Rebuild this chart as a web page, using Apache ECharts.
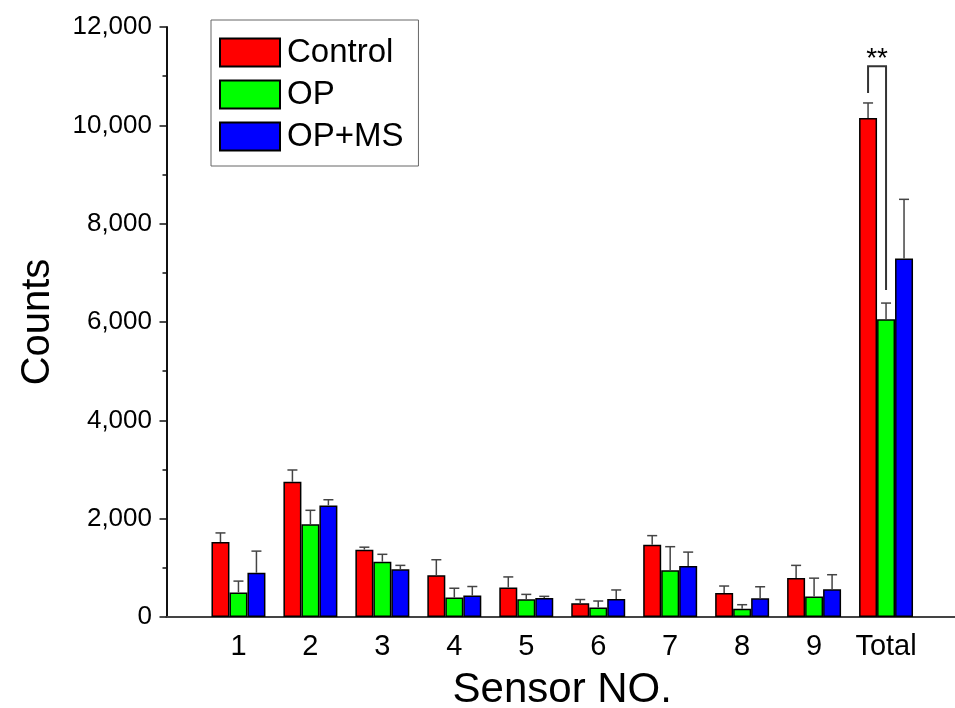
<!DOCTYPE html>
<html>
<head>
<meta charset="utf-8">
<script src="https://cdn.jsdelivr.net/npm/echarts@6/dist/echarts.min.js"></script>
<style>
  html, body { margin: 0; padding: 0; background: #fff; }
  #main { width: 955px; height: 708px; }
</style>
</head>
<body>
<div id="main"></div>
<script>
// categories on the x axis
const sensors = ['1', '2', '3', '4', '5', '6', '7', '8', '9', 'Total'];
// mean counts
const control = [1525, 2750, 1370, 850, 600, 280, 1470, 490, 795, 10150];
const op      = [500, 1885, 1125, 395, 360, 195, 950, 170, 415, 6055];
const opms    = [900, 2270, 970, 435, 385, 365, 1035, 380, 565, 7290];
// upper error (SD)
const controlErr = [185, 240, 50, 315, 215, 75, 185, 140, 255, 305];
const opErr      = [230, 285, 150, 190, 100, 130, 480, 80, 375, 330];
const opmsErr    = [440, 115, 80, 185, 35, 185, 285, 235, 295, 1205];
// significance bracket between Control and OP on Total: [left leg bottom, top, right leg bottom]
const bracket = [10660, 11200, 6650];
const yTicks = [0, 2000, 4000, 6000, 8000, 10000, 12000];

const font = 'Liberation Sans, Arial, sans-serif';
const colors = ['#ff0000', '#00ff00', '#0000ff'];
const names = ['Control', 'OP', 'OP+MS'];

const chart = echarts.init(document.getElementById('main'));

function barSeries(name, vals, color) {
  return {
    name: name,
    type: 'bar',
    data: vals.map((v, i) => [i + 1, v]),
    barGap: '0%',
    barCategoryGap: '25%',
    itemStyle: { color: color, borderColor: '#000', borderWidth: 1.5 },
    z: 2
  };
}

function errSeries(idx, vals, errs) {
  return {
    type: 'custom',
    name: 'err' + idx,
    data: vals.map((v, i) => [i + 1, v, errs[i]]),
    encode: { x: 0, y: 1 },
    z: 3,
    renderItem: function (params, api) {
      const bw = api.size([1, 0])[0] * 0.25;
      const base = api.coord([api.value(0), api.value(1)]);
      const top = api.coord([api.value(0), api.value(1) + api.value(2)]);
      const x = base[0] + (idx - 1) * bw;
      const style = { stroke: '#444', lineWidth: 1.5 };
      return {
        type: 'group',
        children: [
          { type: 'line', shape: { x1: x, y1: base[1], x2: x, y2: top[1] }, style: style },
          { type: 'line', shape: { x1: x - 5, y1: top[1], x2: x + 5, y2: top[1] }, style: style }
        ]
      };
    }
  };
}

const option = {
  backgroundColor: '#fff',
  animation: false,
  textStyle: { fontFamily: font },
  grid: { left: 166.5, right: -3, top: 27, bottom: 91, outerBoundsMode: 'none' },
  legend: {
    data: names,
    icon: 'rect',
    orient: 'vertical',
    left: 211,
    top: 20,
    itemWidth: 60,
    itemHeight: 28,
    itemGap: 9,
    padding: [16, 15, 13, 8],
    borderColor: '#666',
    borderWidth: 1,
    textStyle: { fontSize: 33, color: '#000', fontFamily: font, padding: [0, 0, 0, 2] }
  },
  xAxis: {
    type: 'value',
    min: 0,
    max: 11,
    interval: 1,
    name: 'Sensor NO.',
    nameLocation: 'middle',
    nameGap: 52,
    nameTextStyle: { fontSize: 42, color: '#000', fontFamily: font },
    axisLine: { lineStyle: { color: '#444', width: 2 } },
    axisTick: { show: false },
    splitLine: { show: false },
    axisLabel: {
      fontSize: 29,
      color: '#000',
      margin: 15,
      formatter: v => sensors[v - 1] || ''
    }
  },
  yAxis: {
    type: 'value',
    min: yTicks[0],
    max: yTicks[yTicks.length - 1],
    interval: yTicks[1] - yTicks[0],
    offset: 1.5,
    name: 'Counts',
    nameLocation: 'middle',
    nameGap: 107,
    nameTextStyle: { fontSize: 40, color: '#000', fontFamily: font },
    axisLine: { show: true, lineStyle: { color: '#111', width: 2 } },
    axisTick: { show: true, inside: false, length: 7, lineStyle: { color: '#111', width: 1.5 } },
    minorTick: { show: true, splitNumber: 2, length: 4, lineStyle: { color: '#111', width: 1.5 } },
    splitLine: { show: false },
    axisLabel: {
      fontSize: 26,
      color: '#000',
      margin: 13,
      formatter: v => v.toLocaleString('en-US')
    }
  },
  series: [
    barSeries(names[0], control, colors[0]),
    barSeries(names[1], op, colors[1]),
    barSeries(names[2], opms, colors[2]),
    errSeries(0, control, controlErr),
    errSeries(1, op, opErr),
    errSeries(2, opms, opmsErr),
    {
      type: 'custom',
      name: 'sig',
      data: [[sensors.length, bracket[0], bracket[1], bracket[2]]],
      encode: { x: 0, y: 2 },
      z: 4,
      renderItem: function (params, api) {
        const bw = api.size([1, 0])[0] * 0.25;
        const cx = api.coord([api.value(0), 0])[0];
        const xl = cx - bw;
        const xr = cx;
        const yl = api.coord([0, api.value(1)])[1];
        const yt = api.coord([0, api.value(2)])[1];
        const yr = api.coord([0, api.value(3)])[1];
        return {
          type: 'group',
          children: [
            {
              type: 'polyline',
              shape: { points: [[xl, yl], [xl, yt], [xr, yt], [xr, yr]] },
              style: { stroke: '#333', lineWidth: 2, fill: null }
            },
            {
              type: 'text',
              x: (xl + xr) / 2,
              y: yt - 7,
              style: { text: '**', fill: '#000', align: 'center', verticalAlign: 'middle', font: '28px ' + font }
            }
          ]
        };
      }
    }
  ]
};

chart.setOption(option);
</script>
</body>
</html>
